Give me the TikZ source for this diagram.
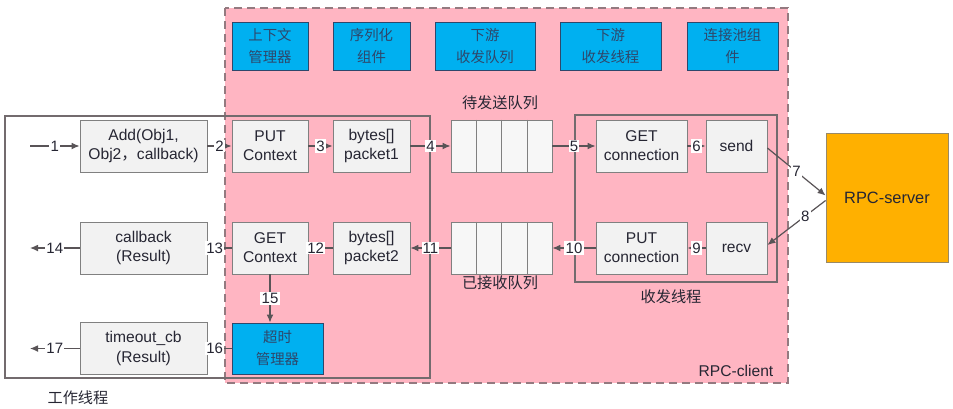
\documentclass[tikz,border=0pt]{standalone}
\usepackage{fontspec}
\setmainfont{Liberation Sans}
\newfontfamily\cjk{Noto Sans CJK SC}
\usetikzlibrary{arrows.meta, positioning, calc}
\definecolor{PinkArea}{rgb}{1.0, 0.71, 0.76}
\definecolor{DashLine}{rgb}{0.58, 0.48, 0.5}
\definecolor{CompBlue}{rgb}{0.0, 0.69, 0.94}
\definecolor{CompLine}{rgb}{0.18, 0.28, 0.42}
\definecolor{ServerOrange}{rgb}{1.0, 0.69, 0.0}
\definecolor{BoxFill}{rgb}{0.95, 0.95, 0.95}
\definecolor{BoxLine}{rgb}{0.5, 0.5, 0.5}
\definecolor{FrameLine}{rgb}{0.45, 0.42, 0.43}
\definecolor{LineGray}{rgb}{0.35, 0.33, 0.34}
\definecolor{DarkText}{rgb}{0.15, 0.15, 0.2}

\begin{document}
\begin{tikzpicture}[x=0.5pt, y=-0.5pt, font=\fontsize{7.8}{9.6}\selectfont,
    box/.style={draw=BoxLine, fill=BoxFill, text=DarkText, align=center,
        minimum height=26pt, inner sep=1pt},
    comp/.style={draw=CompLine, fill=CompBlue, text=CompLine, align=center,
        minimum height=24pt, inner sep=1pt, font=\cjk\fontsize{7.2}{11}\selectfont},
    num/.style={fill=white, inner sep=0.6pt, text=DarkText, font=\fontsize{7.5}{8}\selectfont},
    flow/.style={draw=LineGray, line width=0.6pt, -{Latex[length=4pt,width=3.4pt]}},
    zh/.style={text=DarkText, font=\cjk\fontsize{7.6}{9}\selectfont}]

\useasboundingbox (0,0) rectangle (953,408);

% RPC-client area and thread frames
\fill[PinkArea] (225,8) rectangle (788,383);
\draw[DashLine, line width=0.8pt, dash pattern=on 4pt off 2.5pt] (225,8) rectangle (788,383);
\draw[FrameLine, line width=0.7pt] (5,116) rectangle (430,378);
\draw[FrameLine, line width=0.7pt] (575,115) rectangle (777,282);

% components
\node[comp, minimum width=38pt] (ctxmgr) at (270,46) {上下文\\管理器};
\node[comp, minimum width=38.5pt] (serial) at (371.5,46) {序列化\\组件};
\node[comp, minimum width=50pt] (ioqueue) at (485,46) {下游\\收发队列};
\node[comp, minimum width=50.5pt] (iothread) at (610.5,46) {下游\\收发线程};
\node[comp, minimum width=45.5pt] (connpool) at (732.5,46) {连接池组\\件};

% send path
\node[box, minimum width=63.5pt] (add) at (143.5,146) {Add(Obj1,\\Obj2{\cjk ，}callback)};
\node[box, minimum width=38pt] (putctx) at (270,146) {PUT\\Context};
\node[box, minimum width=38.5pt] (pkt1) at (371.5,146) {bytes[]\\packet1};
\node[box, minimum width=50.5pt, fill=white!94!gray] (sendq) at (501.5,146) {};
\node[box, minimum width=45.5pt] (getconn) at (641.5,146) {GET\\connection};
\node[box, minimum width=30.5pt] (send) at (736.5,146) {send};

% receive path
\node[box, minimum width=63.5pt] (callback) at (143.5,248) {callback\\(Result)};
\node[box, minimum width=38pt] (getctx) at (270,248) {GET\\Context};
\node[box, minimum width=38.5pt] (pkt2) at (371.5,248) {bytes[]\\packet2};
\node[box, minimum width=50.5pt, fill=white!94!gray] (recvq) at (501.5,248) {};
\node[box, minimum width=45.5pt] (putconn) at (641.5,248) {PUT\\connection};
\node[box, minimum width=30.5pt] (recv) at (736.5,248) {recv};

% timeout
\node[box, minimum width=63.5pt] (timeoutcb) at (143.5,348.5) {timeout\_cb\\(Result)};
\node[comp, minimum width=45.5pt, minimum height=25.5pt] (timer) at (277.5,348.5) {超时\\管理器};

\node[draw=BoxLine!80!ServerOrange, fill=ServerOrange, text=DarkText,
      minimum width=61pt, minimum height=64.5pt, font=\fontsize{8.2}{10}\selectfont]
    (server) at (887,197.5) {RPC-server};

\foreach \q in {sendq, recvq}
    \foreach \i in {1,2,3}
        \draw[BoxLine] ($(\q.north west)!\i/4!(\q.north east)$) -- ($(\q.south west)!\i/4!(\q.south east)$);

% labels
\node[zh] (sendqlbl) at (500,103) {待发送队列};
\node[zh] (recvqlbl) at (500,283) {已接收队列};
\node[zh] (iolbl) at (671,297) {收发线程};
\node[zh] (worklbl) at (78,398) {工作线程};
\node[text=DarkText] (clientlbl) at (736,371) {RPC-client};

\coordinate (in1) at (30,146);
\coordinate (out14) at (30,248);
\coordinate (out17) at (30,348.5);

% flow
\draw[flow] (in1) -- node[num]{1} (add);
\draw[flow] (add) -- node[num]{2} (putctx);
\draw[flow] (putctx) -- node[num]{3} (pkt1);
\draw[flow] (pkt1) -- node[num]{4} (sendq);
\draw[flow] (sendq) -- node[num]{5} (getconn);
\draw[flow] (getconn) -- node[num]{6} (send);
\draw[flow] ([yshift=-1pt]send.east) -- node[num]{7} ([yshift=1pt]server.west);
\draw[flow] ([yshift=-1.5pt]server.west) -- node[num, pos=0.35]{8} ([yshift=1.5pt]recv.east);
\draw[flow] (recv) -- node[num]{9} (putconn);
\draw[flow] (putconn) -- node[num]{10} (recvq);
\draw[flow] (recvq) -- node[num]{11} (pkt2);
\draw[flow] (pkt2) -- node[num, pos=0.7]{12} (getctx);
\draw[flow] (getctx) -- node[num, pos=0.7]{13} (callback);
\draw[flow] (callback) -- node[num]{14} (out14);
\draw[flow] (getctx.south) -- node[num]{15} (getctx.south |- timer.north);
\draw[flow] (timer) -- node[num, pos=0.7]{16} (timeoutcb);
\draw[flow] (timeoutcb) -- node[num]{17} (out17);

\end{tikzpicture}
\end{document}
